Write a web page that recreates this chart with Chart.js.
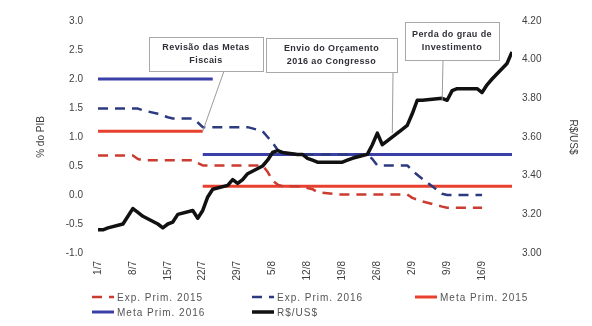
<!DOCTYPE html>
<html>
<head>
<meta charset="utf-8">
<script src="https://cdn.jsdelivr.net/npm/chart.js@4.4.0/dist/chart.umd.min.js"></script>
<style>
  html, body { margin: 0; padding: 0; background: #fff; }
  #wrap { position: relative; width: 592px; height: 326px; }
  #legend { position: absolute; left: 0; top: 0; width: 592px; height: 326px; pointer-events: none;
            font: 10px "Liberation Sans", Arial, sans-serif; color: #555; letter-spacing: 1px; }
  .item { position: absolute; display: flex; align-items: center; height: 12px; white-space: nowrap; }
  .item svg { margin-right: 3px; }
</style>
</head>
<body>
<div id="wrap">
  <canvas id="chart" width="592" height="326"></canvas>
  <div id="legend"></div>
</div>
<script>
// business days, 2015 (d/m)
const dates = [
  '1/7','2/7','3/7','6/7','7/7','8/7','9/7','10/7','13/7','14/7','15/7','16/7','17/7','20/7','21/7','22/7',
  '23/7','24/7','27/7','28/7','29/7','30/7','31/7',
  '3/8','4/8','5/8','6/8','7/8','10/8','11/8','12/8','13/8','14/8','17/8','18/8','19/8','20/8','21/8',
  '24/8','25/8','26/8','27/8','28/8','31/8',
  '1/9','2/9','3/9','4/9','8/9','9/9','10/9','11/9','14/9','15/9','16/9','17/9','18/9','21/9','22/9'
];

// R$/US$ (right axis)
const usd = [
  3.12, 3.12, 3.13, 3.15, 3.19, 3.23, 3.21, 3.19, 3.15, 3.13, 3.15, 3.16, 3.20, 3.22, 3.18, 3.22,
  3.29, 3.33, 3.35, 3.38, 3.36, 3.38, 3.41,
  3.45, 3.48, 3.52, 3.53, 3.52, 3.51, 3.51, 3.49, 3.48, 3.47, 3.47, 3.47, 3.47, 3.48, 3.49,
  3.51, 3.56, 3.62, 3.56, 3.58, 3.64,
  3.66, 3.72, 3.79, 3.79, 3.80, 3.79, 3.84, 3.85, 3.85, 3.85, 3.83, 3.87, 3.90, 3.98, 4.04
];

// expectations, % do PIB (up to 16/9)
const exp2015 = [
  0.68, 0.68, 0.68, 0.68, 0.68, 0.68, 0.62, 0.60, 0.60, 0.60, 0.60, 0.60, 0.60, 0.60, 0.55, 0.51,
  0.51, 0.51, 0.51, 0.51, 0.51, 0.51, 0.51,
  0.51, 0.40, 0.25, 0.18, 0.15, 0.15, 0.14, 0.12, 0.10, 0.05, 0.02, 0.01, 0.01, 0.01, 0.01,
  0.01, 0.01, 0.01, 0.01, 0.01, 0.01,
  0.01, -0.05, -0.08, -0.11, -0.20, -0.22, -0.22, -0.22, -0.22, -0.22, -0.22
];
const exp2016 = [
  1.49, 1.49, 1.49, 1.49, 1.49, 1.49, 1.49, 1.46, 1.40, 1.37, 1.34, 1.32, 1.32, 1.32, 1.25, 1.17,
  1.17, 1.17, 1.17, 1.17, 1.17, 1.17, 1.17,
  1.10, 1.00, 0.90, 0.78, 0.72, 0.70, 0.70, 0.70, 0.70, 0.70, 0.70, 0.70, 0.70, 0.70, 0.70,
  0.70, 0.62, 0.51, 0.51, 0.51, 0.51,
  0.51, 0.42, 0.35, 0.28, 0.02, 0.00, 0.00, 0.00, 0.00, 0.00, 0.00
];

// fiscal targets: before / after the revision (22/7)
const metaNew = '22/7';
const meta2015 = [1.1, 0.15];
const meta2015OldEnd = '22/7';
const meta2016 = [2.0, 0.7];
const meta2016OldEnd = '24/7';

const notes = [
  { lines: ['Revisão das Metas', 'Fiscais'], box: [149, 37, 114, 34], from: 224, at: '22/7', axis: 'y', v: 1.1 },
  { lines: ['Envio do Orçamento', '2016 ao Congresso'], box: [266, 38, 131, 34], from: 393, at: '29/8', axis: 'y1', v: 3.62 },
  { lines: ['Perda do grau de', 'Investimento'], box: [405, 22, 94, 38], from: 443, at: '8/9', axis: 'y1', v: 3.79 }
];

const day0 = Date.UTC(2015, 6, 1);
function dayOf(s) {
  const [d, m] = s.split('/').map(Number);
  return (Date.UTC(2015, m - 1, d) - day0) / 864e5;
}
function dateOf(n) {
  const t = new Date(day0 + n * 864e5);
  return t.getUTCDate() + '/' + (t.getUTCMonth() + 1);
}
const lastDay = dayOf(dates[dates.length - 1]);

function series(vals) {
  return vals.map((v, i) => ({ x: dayOf(dates[i]), y: v }));
}
function meta(vals, oldEnd) {
  const e = dayOf(oldEnd), c = dayOf(metaNew);
  return [{ x: 0, y: vals[0] }, { x: e, y: vals[0] }, { x: e, y: null }, { x: c, y: null },
          { x: c, y: vals[1] }, { x: lastDay, y: vals[1] }];
}

const font = { family: '"Liberation Sans", Arial, sans-serif', size: 10 };
const txt = '#404040';

const notesPlugin = {
  id: 'notes',
  afterDraw(chart) {
    const ctx = chart.ctx;
    const xs = chart.scales.x;
    ctx.save();
    notes.forEach(n => {
      const [bx, by, bw, bh] = n.box;
      const px = xs.getPixelForValue(dayOf(n.at));
      const py = chart.scales[n.axis].getPixelForValue(n.v);
      ctx.strokeStyle = '#9a9a9a';
      ctx.lineWidth = 1;
      ctx.beginPath();
      ctx.moveTo(n.from, by + bh);
      ctx.lineTo(px, py);
      ctx.stroke();
      ctx.fillStyle = '#fff';
      ctx.fillRect(bx, by, bw, bh);
      ctx.strokeStyle = '#a8a8a8';
      ctx.strokeRect(bx + 0.5, by + 0.5, bw, bh);
      ctx.fillStyle = '#303038';
      ctx.font = 'bold 9px "Liberation Sans", Arial, sans-serif';
      ctx.letterSpacing = '0.4px';
      ctx.textAlign = 'center';
      ctx.textBaseline = 'middle';
      const cy = by + bh / 2;
      ctx.fillText(n.lines[0], bx + bw / 2, cy - 6.5);
      ctx.fillText(n.lines[1], bx + bw / 2, cy + 6.5);
    });
    ctx.restore();
  }
};

const base = { pointRadius: 0, tension: 0, fill: false, spanGaps: false, borderCapStyle: 'butt', borderJoinStyle: 'round' };

const chart = new Chart(document.getElementById('chart'), {
  type: 'line',
  data: {
    datasets: [
      { ...base, label: 'Exp. Prim. 2015', data: series(exp2015), yAxisID: 'y', borderColor: '#cc3b2f', borderWidth: 2.5, borderDash: [10, 7], order: 1 },
      { ...base, label: 'Exp. Prim. 2016', data: series(exp2016), yAxisID: 'y', borderColor: '#2c3a80', borderWidth: 2.5, borderDash: [10, 7], order: 2 },
      { ...base, label: 'Meta Prim. 2015', data: meta(meta2015, meta2015OldEnd), yAxisID: 'y', borderColor: '#e8402e', borderWidth: 3, order: 3 },
      { ...base, label: 'Meta Prim. 2016', data: meta(meta2016, meta2016OldEnd), yAxisID: 'y', borderColor: '#3b40a8', borderWidth: 3, order: 4 },
      { ...base, label: 'R$/US$', data: series(usd), yAxisID: 'y1', borderColor: '#111', borderWidth: 3.5, order: 0 }
    ]
  },
  options: {
    responsive: false,
    animation: false,
    layout: { padding: { top: 15, bottom: 33, left: 0, right: 0 } },
    plugins: { legend: { display: false }, tooltip: { enabled: false } },
    scales: {
      x: {
        type: 'linear', min: 0, max: lastDay,
        grid: { display: false, drawTicks: false }, border: { display: false },
        ticks: {
          stepSize: 7, includeBounds: false, autoSkip: false, minRotation: 90, maxRotation: 90,
          padding: 8, color: txt, font, callback: v => dateOf(v)
        },
        afterFit: s => { s.height = 40; }
      },
      y: {
        position: 'left', min: -1, max: 3,
        grid: { display: false, drawTicks: false }, border: { display: false },
        ticks: { stepSize: 0.5, padding: 15, color: txt, font, callback: v => v.toFixed(1) },
        title: { display: true, text: '% do PIB', color: txt, font, padding: { top: 35, bottom: 0 } },
        afterFit: s => { s.width = 98; }
      },
      y1: {
        position: 'right', min: 3, max: 4.2,
        grid: { display: false, drawTicks: false }, border: { display: false },
        ticks: { stepSize: 0.2, padding: 10, color: txt, font, callback: v => v.toFixed(2) },
        title: { display: true, text: 'R$/US$', color: txt, font, padding: { top: 13, bottom: 0 } },
        afterFit: s => { s.width = 80; }
      }
    }
  },
  plugins: [notesPlugin]
});

// legend in the Excel grid layout
const legendPos = [[92, 291], [252, 291], [415, 291], [92, 306], [252, 306]];
const legend = document.getElementById('legend');
chart.data.datasets.forEach((ds, i) => {
  const [lx, ly] = legendPos[i];
  const item = document.createElement('div');
  item.className = 'item';
  item.style.left = lx + 'px';
  item.style.top = ly + 'px';
  const dash = ds.borderDash ? ds.borderDash.join(',') : 'none';
  item.innerHTML = '<svg width="22" height="6"><line x1="0" y1="3" x2="22" y2="3" stroke="' + ds.borderColor +
    '" stroke-width="' + ds.borderWidth + '" stroke-dasharray="' + dash + '"/></svg><span>' + ds.label + '</span>';
  legend.appendChild(item);
});
</script>
</body>
</html>
